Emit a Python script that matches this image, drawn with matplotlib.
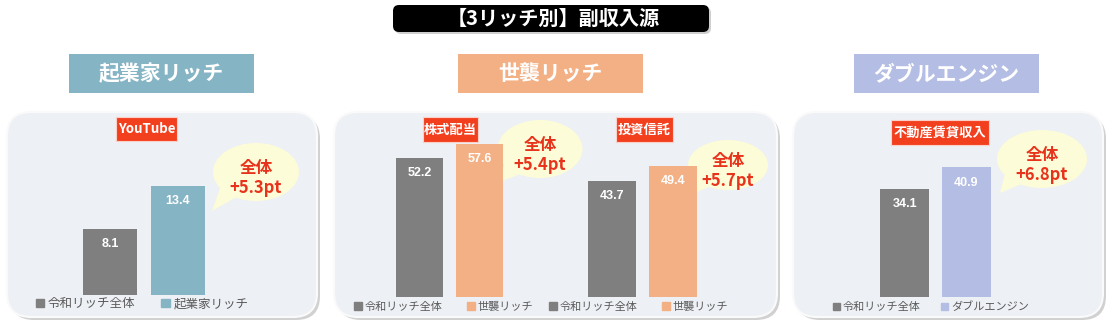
import matplotlib
matplotlib.use("Agg")
import matplotlib.pyplot as plt
from matplotlib.patches import FancyBboxPatch, Ellipse, Polygon, Patch
import numpy as np

plt.rcParams['font.family'] = ['Noto Sans CJK JP', 'DejaVu Sans']

# Data
title = "【3リッチ別】副収入源"
groups = ["起業家リッチ", "世襲リッチ", "ダブルエンジン"]
group_colors = ["#85b4c5", "#f3b084", "#b4bde3"]
items = ["YouTube", "株式配当", "投資信託", "不動産賃貸収入"]
item_group = [0, 1, 1, 2]
all_label = "令和リッチ全体"
all_values = [8.1, 52.2, 43.7, 34.1]
rich_values = [13.4, 57.6, 49.4, 40.9]

# Layout in pixels (x, y from top-left)
W, H = 1110, 325
header_boxes = [(69, 54, 185, 39), (458, 54, 185, 39), (854, 54, 185, 39)]
panels = [(7, 112, 310, 205), (334, 112, 443, 205), (793, 112, 310, 205)]
chart_axes = [(76, 212, 165, 295), (389.5, 509.5, 124, 297),
              (581.5, 703.5, 124, 297), (874, 997, 138.5, 297)]
chart_ymax = [16, 65, 65, 50]
label_boxes = [(116, 117, 61, 24), (423, 117, 55, 25), (616, 117, 57, 25), (891, 120, 98, 25)]
bubbles = [(256, 172, 86, 58, 212, 211), (540, 149, 85, 58, 497, 183),
           (728, 165, 80, 50, 685, 197), (1042, 159, 90, 58, 1000, 193)]
legend_pos = [(142, 304), (444, 307), (639, 307), (931, 307)]
legend_size = [9, 8, 8, 8]
legend_gap = [2.1, 2.2, 2.2, 1.8]

gray = "#7f7f7f"
red_box = "#f2401f"
red_text = "#e8331c"
bubble_fill = "#fdfcd8"
panel_fill = "#edf0f4"

fig = plt.figure(figsize=(W / 100, H / 100), dpi=100)
bg = fig.add_axes([0, 0, 1, 1])
bg.set_xlim(0, W)
bg.set_ylim(H, 0)
bg.axis("off")

# title box
bg.add_patch(FancyBboxPatch((395, 7), 316, 27, boxstyle="round,pad=0,rounding_size=6",
                            fc="#b0b0b0", ec="none", alpha=0.6, zorder=1))
bg.add_patch(FancyBboxPatch((393, 5), 316, 27, boxstyle="round,pad=0,rounding_size=6",
                            fc="black", ec="none", zorder=2))
bg.text(553, 18.5, title, color="white", fontsize=14.5, fontweight="bold",
        ha="center", va="center", zorder=3)

# group headers
for (x, y, w, h), name, c in zip(header_boxes, groups, group_colors):
    bg.add_patch(plt.Rectangle((x, y), w, h, fc=c, ec="none", zorder=2))
    bg.text(x + w / 2, y + h / 2, name, color="white", fontsize=15, fontweight="bold",
            ha="center", va="center", zorder=3)

# panels
for x, y, w, h in panels:
    bg.add_patch(FancyBboxPatch((x + 3, y + 3), w, h, boxstyle="round,pad=0,rounding_size=24",
                                fc="#9a9a9a", ec="none", alpha=0.45, zorder=1))
    bg.add_patch(FancyBboxPatch((x, y), w, h, boxstyle="round,pad=0,rounding_size=24",
                                fc=panel_fill, ec="#fafafa", lw=1.5, zorder=2))

# red item labels
for (x, y, w, h), name in zip(label_boxes, items):
    bg.add_patch(plt.Rectangle((x, y), w, h, fc=red_box, ec="#fbd0c8", lw=0.8, zorder=3))
    bg.text(x + w / 2, y + h / 2, name, color="white", fontsize=9.5, fontweight="bold",
            ha="center", va="center", zorder=4)

# bar charts
for i in range(len(items)):
    l, r, t, b = chart_axes[i]
    ax = fig.add_axes([l / W, 1 - b / H, (r - l) / W, (b - t) / H])
    ax.patch.set_alpha(0)
    c = group_colors[item_group[i]]
    vals = [all_values[i], rich_values[i]]
    ax.bar([0, 1], vals, width=0.79, color=[gray, c], zorder=5)
    for k, v in enumerate(vals):
        ax.annotate(f"{v:.1f}", xy=(k, v), xytext=(0, -11), textcoords="offset points",
                    ha="center", va="center", color="white", fontsize=9, fontweight="bold",
                    family=["Liberation Sans", "DejaVu Sans"], zorder=6)
    ax.set_xlim(-0.5, 1.5)
    ax.set_ylim(0, chart_ymax[i])
    ax.axis("off")
    handles = [Patch(color=gray), Patch(color=c)]
    labels = [all_label, groups[item_group[i]]]
    ax.legend(handles, labels, ncol=2, loc="center", bbox_to_anchor=legend_pos[i],
              bbox_transform=bg.transData, frameon=False, fontsize=legend_size[i],
              handlelength=0.65, handleheight=0.65, handletextpad=0.3,
              columnspacing=legend_gap[i], labelcolor="#595959", borderaxespad=0,
              borderpad=0)

    # speech bubble
    cx, cy, bw, bh, tx, ty = bubbles[i]
    a1, a2 = np.radians(150), np.radians(118)
    p1 = (cx - bw / 2 * abs(np.cos(a1)) * 0.95, cy + bh / 2 * np.sin(a1))
    p2 = (cx - bw / 2 * abs(np.cos(a2)) * 0.9, cy + bh / 2 * np.sin(a2) * 0.95)
    bg.add_patch(Polygon([p1, p2, (tx, ty)], closed=True, fc=bubble_fill, ec="none", zorder=6))
    bg.add_patch(Ellipse((cx, cy), bw, bh, fc=bubble_fill, ec="none", zorder=6))
    diff = rich_values[i] - all_values[i]
    bg.text(cx, cy - 4, "全体", color=red_text, fontsize=12, fontweight="bold",
            ha="center", va="center", zorder=7)
    bg.text(cx, cy + 16, f"+{diff:.1f}pt", color=red_text, fontsize=12, fontweight="bold",
            ha="center", va="center", zorder=7)

fig.savefig("out.png", dpi=100)
